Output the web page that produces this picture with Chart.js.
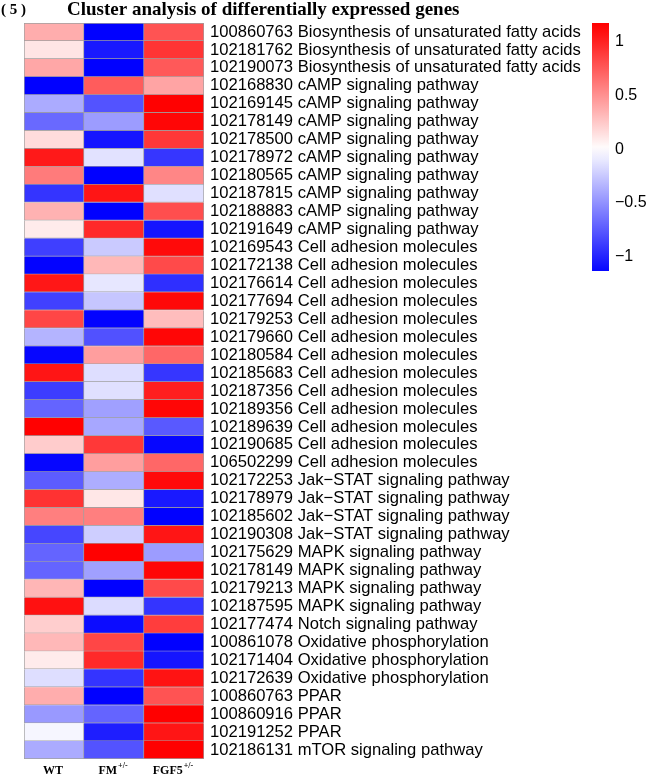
<!DOCTYPE html>
<html>
<head>
<meta charset="utf-8">
<script src="https://cdn.jsdelivr.net/npm/chart.js@4.4.1/dist/chart.umd.min.js"></script>
<style>
  body { margin: 0; background: #fff; }
</style>
</head>
<body>
<canvas id="heatCanvas" width="648" height="775"></canvas>
<script>
// Data
const rowLabels = [
    "100860763 Biosynthesis of unsaturated fatty acids",
    "102181762 Biosynthesis of unsaturated fatty acids",
    "102190073 Biosynthesis of unsaturated fatty acids",
    "102168830 cAMP signaling pathway",
    "102169145 cAMP signaling pathway",
    "102178149 cAMP signaling pathway",
    "102178500 cAMP signaling pathway",
    "102178972 cAMP signaling pathway",
    "102180565 cAMP signaling pathway",
    "102187815 cAMP signaling pathway",
    "102188883 cAMP signaling pathway",
    "102191649 cAMP signaling pathway",
    "102169543 Cell adhesion molecules",
    "102172138 Cell adhesion molecules",
    "102176614 Cell adhesion molecules",
    "102177694 Cell adhesion molecules",
    "102179253 Cell adhesion molecules",
    "102179660 Cell adhesion molecules",
    "102180584 Cell adhesion molecules",
    "102185683 Cell adhesion molecules",
    "102187356 Cell adhesion molecules",
    "102189356 Cell adhesion molecules",
    "102189639 Cell adhesion molecules",
    "102190685 Cell adhesion molecules",
    "106502299 Cell adhesion molecules",
    "102172253 Jak\u2212STAT signaling pathway",
    "102178979 Jak\u2212STAT signaling pathway",
    "102185602 Jak\u2212STAT signaling pathway",
    "102190308 Jak\u2212STAT signaling pathway",
    "102175629 MAPK signaling pathway",
    "102178149 MAPK signaling pathway",
    "102179213 MAPK signaling pathway",
    "102187595 MAPK signaling pathway",
    "102177474 Notch signaling pathway",
    "100861078 Oxidative phosphorylation",
    "102171404 Oxidative phosphorylation",
    "102172639 Oxidative phosphorylation",
    "100860763 PPAR",
    "100860916 PPAR",
    "102191252 PPAR",
    "102186131 mTOR signaling pathway"
];

const groupNames = ["WT", "FM", "FGF5"];
const groupSup = ["", "+/-", "+/-"];

const wtValues = [0.37, 0.12, 0.40, -1.15, -0.38, -0.68, 0.16, 1.04, 0.60, -0.92, 0.35,
    0.09, -0.87, -1.14, 1.05, -0.86, 0.84, -0.34, -1.13, 1.06, -0.88, -0.70, 1.15,
    0.23, -1.13, -0.74, 0.93, 0.58, -0.84, -0.70, -0.70, 0.33, 1.08, 0.22, 0.32,
    0.09, -0.15, 0.37, -0.46, -0.04, -0.38];
const fmValues = [-1.15, -1.04, -1.15, 0.74, -0.78, -0.45, -1.06, -0.13, -1.15, 1.06, -1.15,
    0.97, -0.24, 0.32, -0.11, -0.26, -1.14, -0.79, 0.44, -0.15, -0.14, -0.43, -0.40,
    0.90, 0.44, -0.37, 0.11, 0.58, -0.22, 1.15, -0.43, -1.15, -0.16, -1.10, 0.84,
    0.97, -0.92, -1.15, -0.70, -1.02, -0.78];
const fgf5Values = [0.78, 0.92, 0.75, 0.41, 1.15, 1.13, 0.90, -0.91, 0.55, -0.14, 0.80,
    -1.06, 1.11, 0.82, -0.94, 1.12, 0.30, 1.13, 0.69, -0.91, 1.02, 1.13, -0.75,
    -1.13, 0.69, 1.11, -1.04, -1.15, 1.06, -0.45, 1.13, 0.82, -0.92, 0.88, -1.15,
    -1.06, 1.07, 0.78, 1.16, 1.06, 1.16];

const colorMin = -1.13;
const colorMax = 1.17;
const colorTicks = [1, 0.5, 0, -0.5, -1];
const titlePrefix = "( 5 )";
const titleText = "Cluster analysis of differentially expressed genes";

// Colour scale (blue - white - red)
function valueToColor(v) {
    const lim = 1.155;
    let t = Math.max(-1, Math.min(1, v / lim));
    if (t >= 0) {
        const c = Math.round(255 * (1 - t));
        return "rgb(255," + c + "," + c + ")";
    }
    const c = Math.round(255 * (1 + t));
    return "rgb(" + c + "," + c + ",255)";
}

function makeDataset(values, index) {
    return {
        label: groupNames[index],
        data: values.map(() => 1),
        backgroundColor: values.map(valueToColor),
        borderColor: "#a0a0a0",
        borderWidth: (ctx) => ({
            top: ctx.dataIndex === 0 ? 1 : 0,
            left: index === 0 ? 1 : 0,
            bottom: 1,
            right: 1
        }),
        borderSkipped: false,
        barPercentage: 1,
        categoryPercentage: 1
    };
}

// Extra drawing: title, column labels, colour key
const decorations = {
    id: "decorations",
    afterDraw(chart) {
        const ctx = chart.ctx;
        const xScale = chart.scales.x;
        const area = chart.chartArea;
        ctx.save();
        ctx.fillStyle = "#000";

        // title
        ctx.textBaseline = "alphabetic";
        ctx.textAlign = "left";
        ctx.font = "bold 15px 'Liberation Serif'";
        ctx.fillText(titlePrefix, 1, 14);
        ctx.font = "bold 19px 'Liberation Serif'";
        ctx.fillText(titleText, 67, 15);

        // column labels
        for (let i = 0; i < groupNames.length; i++) {
            const cx = xScale.getPixelForValue(i + 0.5);
            ctx.font = "bold 12px 'Liberation Serif'";
            const w1 = ctx.measureText(groupNames[i]).width;
            ctx.font = "bold 8px 'Liberation Serif'";
            const w2 = groupSup[i] ? ctx.measureText(groupSup[i]).width + 1 : 0;
            const x0 = cx - (w1 + w2) / 2 - 1;
            ctx.font = "bold 12px 'Liberation Serif'";
            ctx.fillText(groupNames[i], x0, area.bottom + 15);
            if (groupSup[i]) {
                ctx.font = "bold 8px 'Liberation Serif'";
                ctx.fillText(groupSup[i], x0 + w1 + 1, area.bottom + 9);
            }
        }

        // colour key
        const kx = 592, kw = 17, ky = 23, kh = 248;
        const grad = ctx.createLinearGradient(0, ky, 0, ky + kh);
        for (let s = 0; s <= 20; s++) {
            const v = colorMax - (colorMax - colorMin) * s / 20;
            grad.addColorStop(s / 20, valueToColor(v));
        }
        ctx.fillStyle = grad;
        ctx.fillRect(kx, ky, kw, kh);

        ctx.fillStyle = "#000";
        ctx.font = "16px 'Liberation Sans'";
        ctx.textBaseline = "middle";
        for (const t of colorTicks) {
            const y = ky + (colorMax - t) / (colorMax - colorMin) * kh;
            const txt = t < 0 ? "\u2212" + String(-t) : String(t);
            ctx.fillText(txt, 615, y);
        }
        ctx.restore();
    }
};

const heatChart = new Chart(document.getElementById("heatCanvas").getContext("2d"), {
    type: "bar",
    data: {
        labels: rowLabels,
        datasets: [
            makeDataset(wtValues, 0),
            makeDataset(fmValues, 1),
            makeDataset(fgf5Values, 2)
        ]
    },
    options: {
        indexAxis: "y",
        responsive: false,
        devicePixelRatio: 1,
        animation: false,
        layout: {
            padding: { left: 24, top: 23, bottom: 14, right: 0 }
        },
        scales: {
            x: {
                type: "linear",
                min: 0,
                max: 3,
                stacked: true,
                display: false
            },
            y: {
                type: "category",
                position: "right",
                stacked: true,
                offset: true,
                grid: { display: false, drawTicks: false },
                border: { display: false },
                ticks: {
                    color: "#000",
                    padding: 6,
                    autoSkip: false,
                    font: { family: "'Liberation Sans'", size: 16.6 }
                },
                afterFit: (scale) => { scale.width = 444; }
            }
        },
        plugins: {
            legend: { display: false },
            tooltip: { enabled: false },
            title: { display: false }
        }
    },
    plugins: [decorations]
});
</script>
</body>
</html>
